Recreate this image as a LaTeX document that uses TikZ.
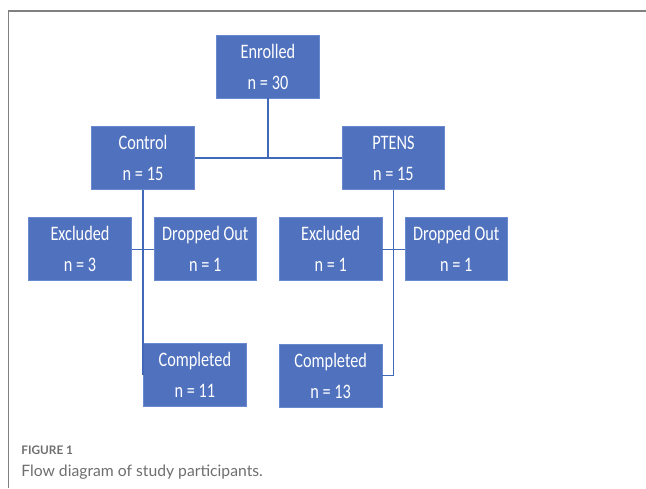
\documentclass[tikz,border=0pt]{standalone}
\usepackage{fontspec}
\usepackage{xcolor}
\setmainfont{Carlito}[FakeStretch=0.79]
\newfontfamily\capfont{Lato}
\definecolor{boxblue}{HTML}{4F71BE}
\definecolor{edgeblue}{HTML}{6A8AD0}
\definecolor{lineblue}{HTML}{4169B8}
\definecolor{capgray}{HTML}{6E6E6E}

\tikzset{
	flowbox/.style={rectangle, fill=boxblue, draw=edgeblue, line width=0.3pt, text=white,
		minimum width=51.25pt, minimum height=31.5pt, inner sep=0pt, align=center,
		font=\fontsize{10.3}{15.5}\selectfont},
	link/.style={lineblue, line width=0.55pt}
}

\begin{document}
\begin{tikzpicture}[x=0.5pt, y=-0.5pt]
		\useasboundingbox (0, 0) rectangle (646, 488);
		\draw[gray, line width=0.6pt] (8.7, 488) -- (8.7, 11) -- (646, 11);
		% boxes
		\node[flowbox] (enrolled) at (268, 66.5) {Enrolled\\n = 30};
		\node[flowbox] (control) at (143, 158) {Control\\n = 15};
		\node[flowbox] (ptens) at (393.4, 158) {PTENS\\n = 15};
		\node[flowbox] (exclC) at (80, 249.2) {Excluded\\n = 3};
		\node[flowbox] (dropC) at (205.3, 249.2) {Dropped Out\\n = 1};
		\node[flowbox] (exclP) at (330.7, 249.2) {Excluded\\n = 1};
		\node[flowbox] (dropP) at (456.2, 249.2) {Dropped Out\\n = 1};
		\node[flowbox] (compC) at (194.9, 374.7) {Completed\\n = 11};
		\node[flowbox] (compP) at (330.7, 375.7) {Completed\\n = 13};
		% connectors
		\draw[link] (enrolled.south) -- (enrolled.south |- control.east);
		\draw[link] (control.east) -- (ptens.west);
		\draw[link] (control.south) -- (control.south |- compC.west);
		\draw[link] (exclC.east) -- (dropC.west);
		\draw[link] (ptens.south) |- (compP.east);
		\draw[link] (exclP.east) -- (dropP.west);
		% caption
		\node[anchor=base west, inner sep=0pt, text=capgray, font=\capfont\bfseries\fontsize{5.9}{7}\selectfont] (figlabel) at (21, 454) {FIGURE 1};
		\node[anchor=base west, inner sep=0pt, text=capgray, font=\capfont\fontsize{7.85}{9}\selectfont] (figcaption) at (21, 476.7) {Flow diagram of study participants.};
	\end{tikzpicture}
\end{document}
